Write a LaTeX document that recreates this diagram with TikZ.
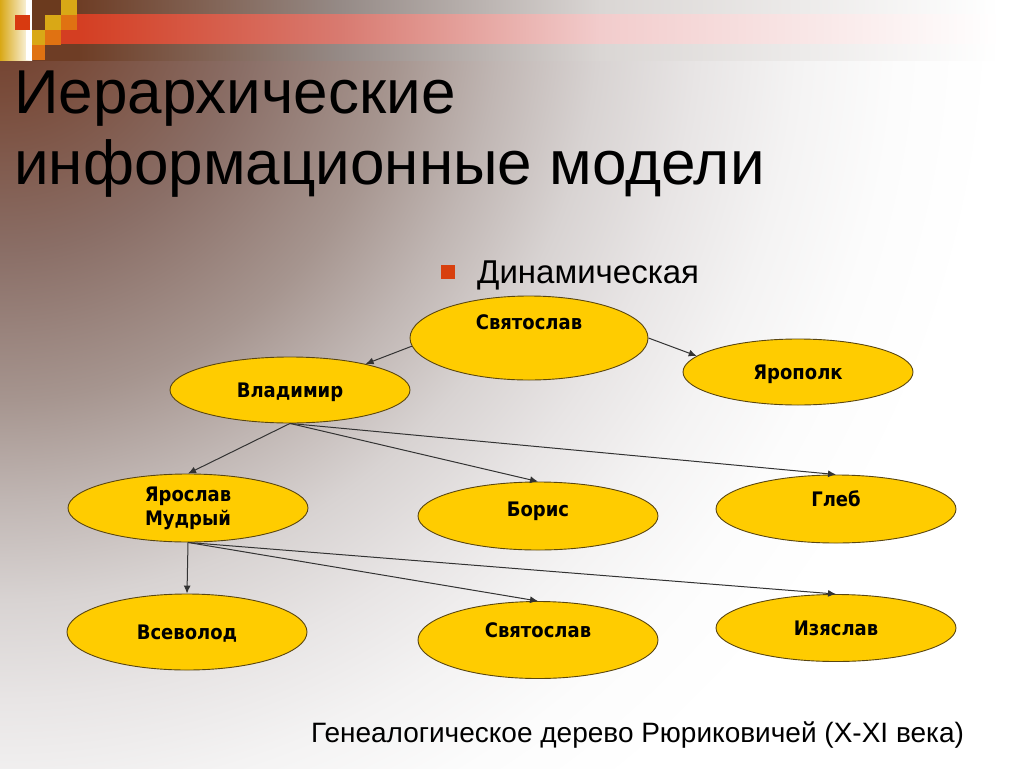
\documentclass[tikz,border=0pt]{standalone}
\usepackage{fontspec}
\setmainfont{Liberation Sans}
\newfontfamily\namefont{DejaVu Sans Condensed}
\usetikzlibrary{shapes.geometric,arrows.meta}
\definecolor{nodefill}{HTML}{FFCC00}
\definecolor{nodeline}{HTML}{5A4610}
\definecolor{linkgray}{HTML}{333333}
\definecolor{bulletred}{HTML}{D8400E}
\definecolor{cellbrown}{HTML}{6B3A1E}
\definecolor{cellgold}{HTML}{D9A816}
\definecolor{cellorange}{HTML}{E07212}
\definecolor{cellred}{HTML}{D83A10}
% background colours, from the corner outwards
\definecolor{bgA}{HTML}{6E3A26}
\definecolor{bgB}{HTML}{7A4D3C}
\definecolor{bgC}{HTML}{8A6E66}
\definecolor{bgD}{HTML}{A6958F}
\definecolor{bgE}{HTML}{C0B6B3}
\definecolor{bgF}{HTML}{D8D3D2}
\definecolor{bgG}{HTML}{E8E5E5}
\definecolor{bgH}{HTML}{F4F3F3}
\definecolor{bgI}{HTML}{FCFCFC}
\definecolor{tbA}{HTML}{6E3D25}
\definecolor{tbB}{HTML}{958A86}
\definecolor{tbC}{HTML}{DAD6D4}
\definecolor{rbA}{HTML}{D43E22}
\definecolor{rbB}{HTML}{D87A70}
\definecolor{rbC}{HTML}{F2CCCC}
\pgfdeclareradialshading{backdrop}{\pgfpoint{0bp}{0bp}}{color(0bp)=(bgA); color(2.5bp)=(bgB); color(6.25bp)=(bgC); color(10bp)=(bgD); color(12.5bp)=(bgE); color(15bp)=(bgF); color(17.5bp)=(bgG); color(20bp)=(bgH); color(22.5bp)=(bgI); color(25bp)=(white); color(50bp)=(white)}
\pgfdeclarehorizontalshading{brownband}{100bp}{color(0bp)=(tbA); color(28.8bp)=(tbA); color(41.6bp)=(tbB); color(54.3bp)=(tbC); color(73.8bp)=(white); color(100bp)=(white)}
\pgfdeclarehorizontalshading{redband}{100bp}{color(0bp)=(rbA); color(28.8bp)=(rbA); color(41.6bp)=(rbB); color(54.3bp)=(rbC); color(73.8bp)=(white); color(100bp)=(white)}
\tikzset{person/.style 2 args={ellipse,draw=nodeline,fill=nodefill,line width=0.9pt,inner sep=0pt,
           minimum width=#1,minimum height=#2,align=center,
           font=\namefont\bfseries\fontsize{20}{24}\selectfont},
         lift/.style={text height=15pt,text depth=#1},
         link/.style={draw=linkgray,line width=1pt,-{Latex[length=8pt,width=7pt]}}
}

\begin{document}
\begin{tikzpicture}[x=1pt,y=-1pt]
\useasboundingbox (0,0) rectangle (1024,768);

% backdrop
\fill[white] (0,0) rectangle (1024,768);
\begin{scope}
\clip (0,0) rectangle (1024,768);
\shade[shading=backdrop] (0,0) circle[radius=1000pt];
\end{scope}

% stripes and squares in the corner
\shade[shading=brownband] (0,0) rectangle (1024,15);
\shade[shading=redband] (0,15) rectangle (1024,45);
\shade[shading=brownband] (0,45) rectangle (1024,60);
\shade[left color=cellgold,right color=white] (0,0) rectangle (32,60);
\fill[white] (26,0) rectangle (32,60);
\foreach \xa/\ya/\xb/\yb/\c in {32/0/61/15/cellbrown,61/0/77/15/cellgold,
    15/15/30/30/cellred,32/15/45/30/cellbrown,45/15/61/30/cellgold,61/15/77/30/cellorange,
    32/30/45/45/cellgold,45/30/61/45/cellorange,32/45/45/60/cellorange}
  \fill[\c] (\xa,\ya) rectangle (\xb,\yb);

% headings
\node[anchor=base west,inner sep=0pt,font=\fontsize{62}{70}\selectfont] (title) at (14,113) {Иерархические};
\node[anchor=base west,inner sep=0pt,font=\fontsize{62}{70}\selectfont] (title2) at (14,184) {информационные модели};
\node[fill=bulletred,minimum size=14pt,inner sep=0pt] (bullet) at (448,272) {};
\node[anchor=base west,inner sep=0pt,font=\fontsize{33}{38}\selectfont] (kind) at (477,283) {Динамическая};

% family tree
\node[person={238pt}{84pt},lift=32pt] (svyat) at (529,338) {Святослав};
\node[person={230pt}{66pt},lift=0pt] (yaropolk) at (798,372) {Ярополк};
\node[person={240pt}{66pt},lift=0pt] (vlad) at (290,390) {Владимир};
\node[person={240pt}{68pt}] (yaroslav) at (188,508) {Ярослав\\Мудрый};
\node[person={240pt}{68pt},lift=14pt] (boris) at (538,516) {Борис};
\node[person={240pt}{68pt},lift=20pt] (gleb) at (836,509) {Глеб};
\node[person={240pt}{76pt},lift=0pt] (vsevolod) at (187,632) {Всеволод};
\node[person={240pt}{77pt},lift=20pt] (svyat2) at (538,640) {Святослав};
\node[person={240pt}{67pt},lift=0pt] (izyaslav) at (836,628) {Изяслав};

\draw[link] (svyat.184) -- (vlad.19);
\draw[link] (svyat.east) -- (yaropolk.171);
\draw[link] (vlad.south) -- (yaroslav.north);
\draw[link] (vlad.south) -- (boris.north);
\draw[link] (vlad.south) -- (gleb.north);
\draw[link] (yaroslav.south) -- (vsevolod.north);
\draw[link] (yaroslav.south) -- (svyat2.north);
\draw[link] (yaroslav.south) -- (izyaslav.north);

\node[anchor=base west,inner sep=0pt,font=\fontsize{28}{34}\selectfont] (caption) at (311,742) {Генеалогическое дерево Рюриковичей (X-XI века)};

\end{tikzpicture}
\end{document}
